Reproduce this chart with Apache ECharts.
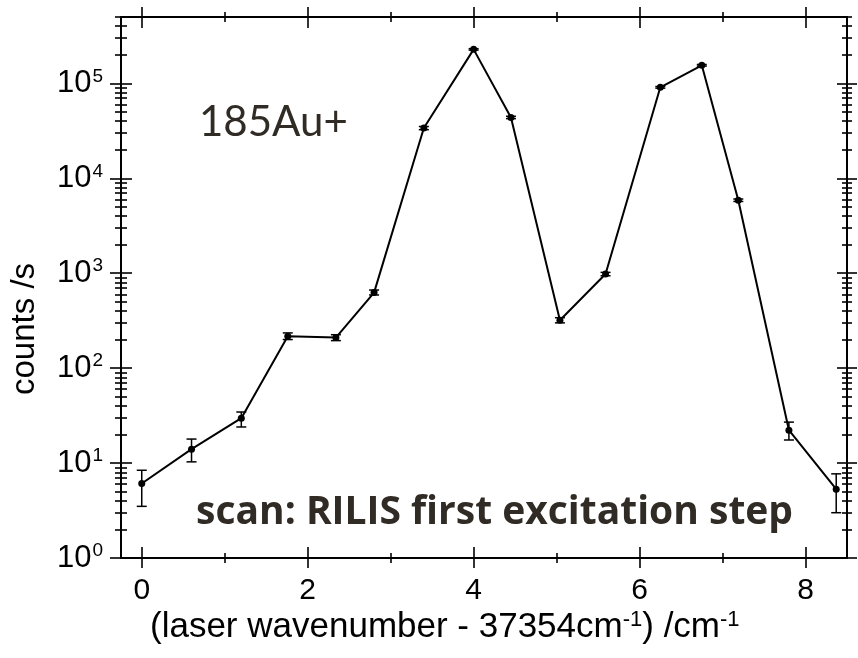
<!DOCTYPE html>
<html>
<head>
<meta charset="utf-8">
<script src="https://cdn.jsdelivr.net/npm/echarts@6/dist/echarts.min.js"></script>
<style>
  html, body { margin: 0; padding: 0; background: #fff; }
  #chart { width: 858px; height: 658px; }
</style>
</head>
<body>
<div id="chart"></div>
<script>
// Laser detuning from 37354 cm^-1 (cm^-1)
const wavenumber = [0, 0.60, 1.20, 1.76, 2.34, 2.80, 3.40, 4.00, 4.45, 5.04, 5.59, 6.25, 6.75, 7.19, 7.80, 8.37];
// Measured ion count rate (counts/s)
const countRate = [6.1, 14, 29.7, 217, 210, 625, 33800, 228000, 43700, 320, 980, 90800, 155000, 5870, 22.2, 5.3];
// Lower / upper ends of the error bars
const errLow  = [3.5, 10.3, 24, 200, 195, 590, 32500, 224000, 42500, 300, 940, 89000, 152000, 5700, 17.5, 3.0];
const errHigh = [8.4, 17.9, 34.5, 235, 225, 665, 35100, 232000, 45000, 340, 1020, 92600, 158000, 6050, 27, 7.7];

// Tick positions
const xMajorTicks = [0, 2, 4, 6, 8];
const xMinorTicks = [1, 3, 5, 7];
const yMajorTicks = [1, 10, 100, 1000, 10000, 100000];
const yMinorTicks = [
  2, 3, 4, 5, 6, 7, 8, 9,
  20, 30, 40, 50, 60, 70, 80, 90,
  200, 300, 400, 500, 600, 700, 800, 900,
  2000, 3000, 4000, 5000, 6000, 7000, 8000, 9000,
  20000, 30000, 40000, 50000, 60000, 70000, 80000, 90000,
  200000, 300000, 400000, 500000
];

const X_MIN = -0.25, X_MAX = 8.5;
const Y_MIN = 1, Y_MAX = 500000;
const AXIS_FONT = "'Liberation Sans', Arial, sans-serif";
const NOTE_FONT = "Lato, 'Open Sans', sans-serif";
const NOTE_BOLD_FONT = "'Open Sans', Lato, sans-serif";

const chart = echarts.init(document.getElementById('chart'), null, { renderer: 'canvas' });

// Each tick set is drawn by two axes (one inward, one outward) so ticks cross the frame.
function xAxisDef(position, ticks, inside, len, withLabels) {
  return {
    type: 'value', position: position, min: X_MIN, max: X_MAX,
    axisLine: { show: true, onZero: false, lineStyle: { color: '#000', width: 2 } },
    axisTick: { show: true, inside: inside, length: len, customValues: ticks,
                lineStyle: { color: '#000', width: 1.6 } },
    axisLabel: withLabels ? {
      show: true, customValues: xMajorTicks, fontSize: 30, fontFamily: AXIS_FONT,
      color: '#000', margin: 18
    } : { show: false },
    splitLine: { show: false }
  };
}
function yAxisDef(position, ticks, inside, len, withLabels) {
  return {
    type: 'log', logBase: 10, position: position, min: Y_MIN, max: Y_MAX,
    axisLine: { show: true, onZero: false, lineStyle: { color: '#000', width: 2 } },
    axisTick: { show: true, inside: inside, length: len, customValues: ticks,
                lineStyle: { color: '#000', width: 1.6 } },
    axisLabel: withLabels ? {
      show: true, customValues: yMajorTicks, fontSize: 31, fontFamily: AXIS_FONT,
      color: '#000', margin: 18,
      formatter: function (v) {
        return '10{sup|' + Math.round(Math.log10(v)) + '}';
      },
      rich: { sup: { fontSize: 19, fontFamily: AXIS_FONT, color: '#000', verticalAlign: 'top', padding: [0, 0, 14, 1] } }
    } : { show: false },
    splitLine: { show: false }
  };
}

const xAxes = [
  xAxisDef('bottom', xMajorTicks, false, 10, true),
  xAxisDef('bottom', xMajorTicks, true, 11, false),
  xAxisDef('bottom', xMinorTicks, false, 5, false),
  xAxisDef('bottom', xMinorTicks, true, 5, false),
  xAxisDef('top', xMajorTicks, false, 10, false),
  xAxisDef('top', xMajorTicks, true, 11, false),
  xAxisDef('top', xMinorTicks, false, 5, false),
  xAxisDef('top', xMinorTicks, true, 5, false)
];
const yAxes = [
  yAxisDef('left', yMajorTicks, false, 11, true),
  yAxisDef('left', yMajorTicks, true, 11, false),
  yAxisDef('left', yMinorTicks, false, 6, false),
  yAxisDef('left', yMinorTicks, true, 6, false),
  yAxisDef('right', yMajorTicks, false, 10, false),
  yAxisDef('right', yMajorTicks, true, 10, false),
  yAxisDef('right', yMinorTicks, false, 5, false),
  yAxisDef('right', yMinorTicks, true, 5, false)
];

const points = wavenumber.map((x, i) => [x, countRate[i]]);
const bars = wavenumber.map((x, i) => [x, errLow[i], errHigh[i]]);

const option = {
  animation: false,
  backgroundColor: '#fff',
  grid: { left: 121, right: 11, top: 17, bottom: 100, containLabel: false, outerBoundsMode: 'none' },
  xAxis: xAxes,
  yAxis: yAxes,
  series: [
    {
      type: 'custom',
      name: 'error',
      xAxisIndex: 0, yAxisIndex: 0,
      data: bars,
      z: 3,
      renderItem: function (params, api) {
        const x = api.value(0);
        const lo = api.coord([x, api.value(1)]);
        const hi = api.coord([x, api.value(2)]);
        const cap = 5;
        const style = { stroke: '#000', lineWidth: 1.5 };
        return {
          type: 'group',
          children: [
            { type: 'line', shape: { x1: lo[0], y1: lo[1], x2: hi[0], y2: hi[1] }, style: style },
            { type: 'line', shape: { x1: lo[0] - cap, y1: lo[1], x2: lo[0] + cap, y2: lo[1] }, style: style },
            { type: 'line', shape: { x1: hi[0] - cap, y1: hi[1], x2: hi[0] + cap, y2: hi[1] }, style: style }
          ]
        };
      }
    },
    {
      type: 'line',
      name: 'counts',
      xAxisIndex: 0, yAxisIndex: 0,
      data: points,
      z: 4,
      symbol: 'circle',
      symbolSize: 7,
      showAllSymbol: true,
      itemStyle: { color: '#000' },
      lineStyle: { color: '#000', width: 2 }
    }
  ],
  graphic: [
    {
      type: 'text', left: 199, top: 101,
      style: { text: '185Au+', fontSize: 42, fontFamily: NOTE_FONT, fill: '#302b25' }
    },
    {
      type: 'text', left: 196, top: 493,
      style: { text: 'scan: RILIS first excitation step', fontSize: 39, fontWeight: 'bold',
               fontFamily: NOTE_BOLD_FONT, fill: '#302b25' }
    },
    {
      type: 'text', x: 8, y: 395, rotation: Math.PI / 2,
      style: { text: 'counts /s', fontSize: 33, fontFamily: AXIS_FONT, fill: '#000' }
    },
    {
      type: 'text', left: 150, top: 609,
      style: {
        text: '(laser wavenumber - 37354cm{sup|-1}) /cm{sup|-1}',
        fontSize: 35, fontFamily: AXIS_FONT, fill: '#000',
        rich: { sup: { fontSize: 22, fontFamily: AXIS_FONT, fill: '#000', verticalAlign: 'top', padding: [0, 0, 15, 0] } }
      }
    }
  ]
};

chart.setOption(option);
</script>
</body>
</html>
